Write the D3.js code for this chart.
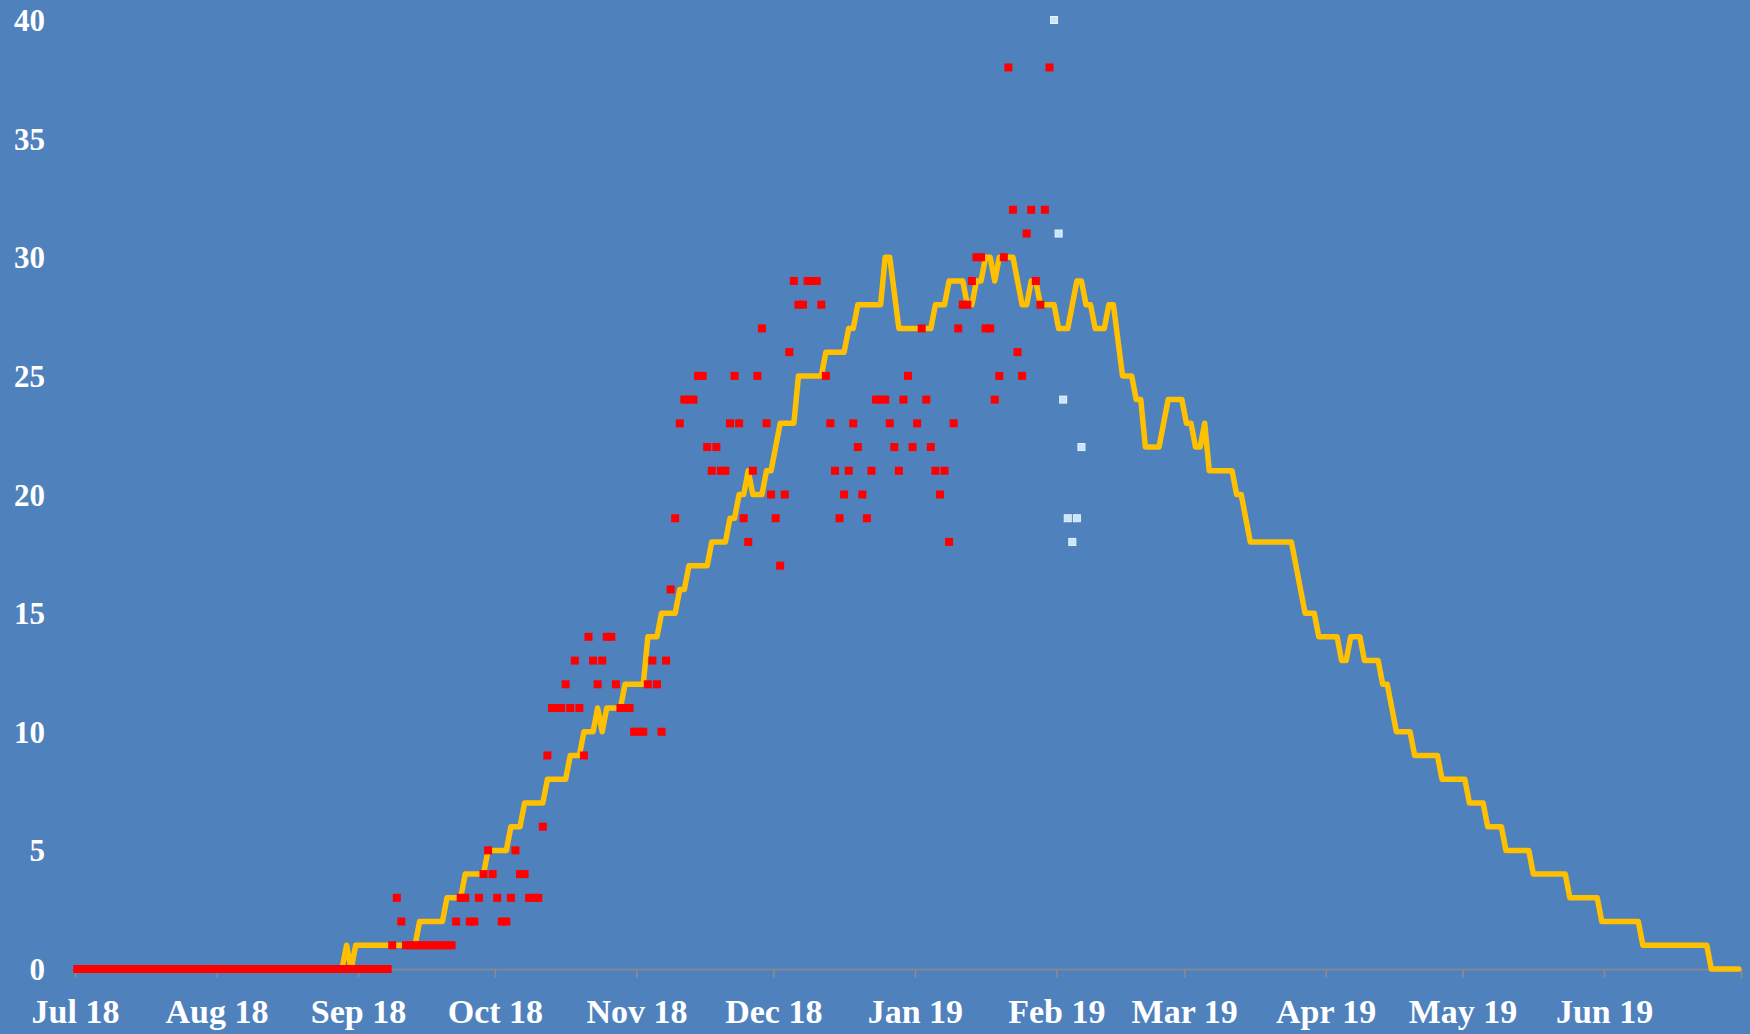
<!DOCTYPE html>
<html><head><meta charset="utf-8">
<script src="https://cdn.jsdelivr.net/npm/d3@7"></script>
<style>html,body{margin:0;padding:0;background:#4f81bd;}svg{display:block;}</style>
</head><body>
<svg id="chart" width="1750" height="1034"></svg>
<script>
// ---- DATA ----
// days are offsets from 2018-07-01
const startDate = "2018-07-01";
const endDate = "2019-07-01";
const monthLabels = ["Jul 18","Aug 18","Sep 18","Oct 18","Nov 18","Dec 18","Jan 19","Feb 19","Mar 19","Apr 19","May 19","Jun 19",""];
const yTicks = [0,5,10,15,20,25,30,35,40];

// yellow line: [day, value] at each change point
const lineSeries = [[58,0],[59,1],[60,0],[61,1],[74,1],[75,2],[80,2],[81,3],[84,3],[85,4],[89,4],[90,5],[94,5],[95,6],[97,6],[98,7],[102,7],[103,8],[107,8],[108,9],[110,9],[111,10],[113,10],[114,11],[115,10],[116,11],[119,11],[120,12],[124,12],[125,14],[127,14],[128,15],[131,15],[132,16],[133,16],[134,17],[138,17],[139,18],[142,18],[143,19],[144,19],[145,20],[146,20],[147,21],[148,20],[150,20],[151,21],[152,21],[153,22],[154,23],[157,23],[158,25],[163,25],[164,26],[168,26],[169,27],[170,27],[171,28],[176,28],[177,30],[178,30],[180,27],[187,27],[188,28],[190,28],[191,29],[194,29],[195,28],[196,28],[197,29],[198,29],[199,30],[200,30],[201,29],[202,30],[205,30],[207,28],[208,28],[209,29],[210,29],[211,28],[214,28],[215,27],[217,27],[219,29],[220,29],[221,28],[222,28],[223,27],[225,27],[226,28],[227,28],[229,25],[231,25],[232,24],[233,24],[234,22],[237,22],[239,24],[242,24],[243,23],[244,23],[245,22],[246,22],[247,23],[248,21],[253,21],[254,20],[255,20],[257,18],[266,18],[267,17],[268,16],[269,15],[271,15],[272,14],[276,14],[277,13],[278,13],[279,14],[281,14],[282,13],[285,13],[286,12],[287,12],[289,10],[292,10],[293,9],[298,9],[299,8],[304,8],[305,7],[308,7],[309,6],[312,6],[313,5],[318,5],[319,4],[326,4],[327,3],[333,3],[334,2],[342,2],[343,1],[357,1],[358,0],[364,0]];

// red daily observations: [day, value]
const redSeries = [[0,0],[1,0],[2,0],[3,0],[4,0],[5,0],[6,0],[7,0],[8,0],[9,0],[10,0],[11,0],[12,0],[13,0],[14,0],[15,0],[16,0],[17,0],[18,0],[19,0],[20,0],[21,0],[22,0],[23,0],[24,0],[25,0],[26,0],[27,0],[28,0],[29,0],[30,0],[31,0],[32,0],[33,0],[34,0],[35,0],[36,0],[37,0],[38,0],[39,0],[40,0],[41,0],[42,0],[43,0],[44,0],[45,0],[46,0],[47,0],[48,0],[49,0],[50,0],[51,0],[52,0],[53,0],[54,0],[55,0],[56,0],[57,0],[58,0],[59,0],[60,0],[61,0],[62,0],[63,0],[64,0],[65,0],[66,0],[67,0],[68,0],
[69,1],[70,3],[71,2],[72,1],[73,1],[74,1],[75,1],[76,1],[77,1],[78,1],[79,1],[80,1],[81,1],[82,1],[83,2],[84,3],[85,3],[86,2],[87,2],[88,3],[89,4],[90,5],[91,4],[92,3],[93,2],[94,2],[95,3],[96,5],[97,4],[98,4],[99,3],[100,3],[101,3],[102,6],[103,9],[104,11],[105,11],[106,11],[107,12],[108,11],[109,13],[110,11],[111,9],[112,14],[113,13],[114,12],[115,13],[116,14],[117,14],[118,12],[119,11],[120,11],[121,11],[122,10],[123,10],[124,10],[125,12],[126,13],[127,12],[128,10],[129,13],[130,16],[131,19],[132,23],[133,24],[134,24],[135,24],[136,25],[137,25],[138,22],[139,21],[140,22],[141,21],[142,21],[143,23],[144,25],[145,23],[146,19],[147,18],[148,21],[149,25],[150,27],[151,23],[152,20],[153,19],[154,17],[155,20],[156,26],[157,29],[158,28],[159,28],[160,29],[161,29],[162,29],[163,28],[164,25],[165,23],[166,21],[167,19],[168,20],[169,21],[170,23],[171,22],[172,20],[173,19],[174,21],[175,24],[176,24],[177,24],[178,23],[179,22],[180,21],[181,24],[182,25],[183,22],[184,23],[185,27],[186,24],[187,22],[188,21],[189,20],[190,21],[191,18],[192,23],[193,27],[194,28],[195,28],[196,29],[197,30],[198,30],[199,27],[200,27],[201,24],[202,25],[203,30],[204,38],[205,32],[206,26],[207,25],[208,31],[209,32],[210,29],[211,28],[212,32],[213,38]];

// light blue observations: [day, value]
const blueSeries = [[214,40],[215,31],[216,24],[217,19],[218,18],[219,19],[220,22]];

// ---- DRAW ----
const svg = d3.select("#chart");
const W = 1750, H = 1034;
svg.append("rect").attr("width", W).attr("height", H).attr("fill", "#4f81bd");

const t0 = new Date(startDate + "T00:00:00Z");
const t1 = new Date(endDate + "T00:00:00Z");
const dayDate = d => d3.utcHour.offset(d3.utcDay.offset(t0, d), 12);

const x = d3.scaleUtc().domain([t0, t1]).range([75, 1741]);
const y = d3.scaleLinear().domain([0, 40]).range([969, 20]);

// x axis
const months = d3.utcMonth.range(t0, d3.utcDay.offset(t1, 1));
const xAxis = d3.axisBottom(x).tickValues(months).tickSize(9)
  .tickFormat((d, i) => monthLabels[i]);
const gx = svg.append("g").attr("transform", "translate(0,969)").call(xAxis);
gx.select(".domain").attr("stroke", "#8a8a8a").attr("stroke-width", 1.6);
gx.selectAll(".tick line").attr("stroke", "#8a8a8a").attr("stroke-width", 1.6);
gx.selectAll(".tick text").attr("fill", "#ffffff").attr("y", 54).attr("dy", 0)
  .style("font-family", "'Liberation Serif', 'DejaVu Serif', serif")
  .style("font-size", "34px").style("font-weight", "bold");

// y axis labels
const yAxis = d3.axisLeft(y).tickValues(yTicks).tickSize(0).tickPadding(0);
const gy = svg.append("g").attr("transform", "translate(45,0)").call(yAxis);
gy.select(".domain").remove();
gy.selectAll(".tick text").attr("fill", "#ffffff").attr("dy", "0.34em")
  .style("font-family", "'Liberation Serif', 'DejaVu Serif', serif")
  .style("font-size", "31px").style("font-weight", "bold");

// yellow line
const line = d3.line().x(d => x(dayDate(d[0]))).y(d => y(d[1]));
svg.append("path").datum(lineSeries).attr("d", line)
  .attr("fill", "none").attr("stroke", "#ffc000").attr("stroke-width", 5.5)
  .attr("stroke-linejoin", "round").attr("stroke-linecap", "round");

// markers
const ms = 8;
svg.append("g").selectAll("rect").data(redSeries).join("rect")
  .attr("x", d => x(dayDate(d[0])) - ms/2).attr("y", d => y(d[1]) - ms/2)
  .attr("width", ms).attr("height", ms).attr("fill", "#ff0000");
svg.append("g").selectAll("rect").data(blueSeries).join("rect")
  .attr("x", d => x(dayDate(d[0])) - ms/2 + 0.5).attr("y", d => y(d[1]) - ms/2 + 0.5)
  .attr("width", ms - 1).attr("height", ms - 1)
  .attr("fill", "#c9e5f9").attr("stroke", "#e6f3fc").attr("stroke-width", 1);
</script>
</body></html>
